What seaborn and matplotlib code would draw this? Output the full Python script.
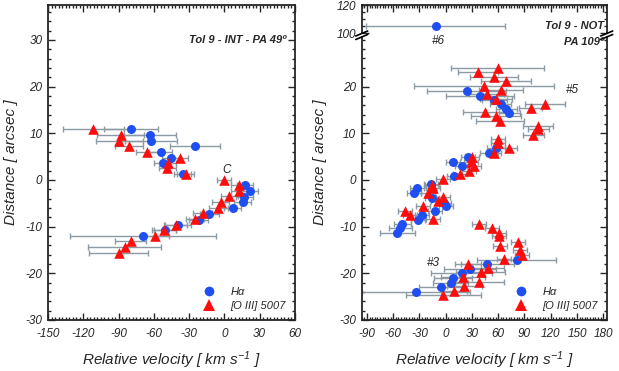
import numpy as np
import pandas as pd
import matplotlib
matplotlib.use("Agg")
import matplotlib.pyplot as plt
import seaborn as sns
from matplotlib.ticker import MultipleLocator, FixedLocator
from matplotlib.lines import Line2D

# ---------------- data ----------------
# Left panel: Tol 9 - INT - PA 49
left_ha_v = [-79.7, -63.3, -62.7, -25.0, -54.2, -45.1, -52.5, -35.5, 17.5, 21.8, 16.9, 15.5, 7.0,
             -12.8, -21.9, -39.7, -50.5, -69.0]
left_ha_d = [10.85, 9.57, 8.36, 7.23, 6.03, 4.82, 3.55, 1.2, -1.06, -2.34, -3.55, -4.8, -6.0,
             -7.2, -8.5, -9.6, -10.8, -12.06]
left_ha_err = [23, 22, 22, 21, 10, 8, 7, 7, 7, 7, 7, 7, 7, 8, 8, 11, 9, 62]

left_o3_v = [-111.5, -88.2, -89.6, -81.1, -65.6, -37.8, -48.2, -48.5, -32.9, -0.3, 12.4, 12.7, 4.2,
             -3.2, -5.2, -18.5, -25.0, -41.4, -51.4, -59.0, -79.7, -84.8, -89.9]
left_o3_d = [10.85, 9.57, 8.36, 7.23, 6.03, 4.82, 3.55, 2.48, 1.2, 0.0, -1.06, -2.34, -3.4,
             -4.8, -6.0, -7.1, -8.4, -9.6, -10.8, -12.06, -13.1, -14.4, -15.6]
left_o3_err = [26, 20, 20, 12, 10, 7, 7, 7, 7, 6, 7, 7, 7, 7, 8, 8, 8, 10, 10, 12, 13, 31, 25]

# Right panel: Tol 9 - NOT - PA 109
right_ha_v = [-11.3, 24.1, 39.3, 55.6, 62.9, 69.0, 72.8, 57.5, 49.5, 25.9, 8.1, 18.7, 9.6,
              -16.7, -33.0, -36.0, -15.9, -1.5, 0.1, -12.1, -26.6, -31.2, -49.4, -52.0, -55.1,
              81.2, 47.6, 27.9, 18.4, 8.1, 5.8, -5.6, -34.1]
right_ha_d = [105.2, 19.1, 18.05, 17.1, 16.2, 15.2, 14.3, 6.8, 5.7, 4.85, 3.8, 3.0, 0.93,
              -0.9, -1.8, -2.85, -3.8, -4.85, -5.6, -6.6, -7.6, -8.6, -9.4, -10.3, -11.4,
              -17.1, -18.05, -19.1, -20.0, -20.9, -22.0, -23.0, -23.9]
right_ha_err = [79.5, 45, 39, 14, 12, 12, 12, 10, 10, 8, 8, 8, 8,
                8, 8, 8, 8, 8, 8, 8, 8, 8, 10, 13, 20,
                45, 30, 30, 35, 22, 20, 25, 62]

right_o3_v = [36.6, 59.5, 55.3, 69.0, 43.8, 63.6, 46.9, 57.5, 97.1, 113.8, 45.0, 57.5, 62.1,
              105.1, 105.8, 99.8, 59.5, 59.8, 55.6, 72.0, 29.8, 28.6, 32.4, 26.7, 16.1, -2.6,
              -15.2, -14.0, -20.4, -2.6, -9.0, -26.1, -46.3, -40.6, -14.0, 38.5, 52.6, 61.0,
              61.0, 62.1, 83.0, 84.9, 86.9, 66.7, 25.9, 48.1, 40.1, 19.5, 38.1, 21.3, 9.6, -2.6]
right_o3_d = [23.0, 23.9, 22.0, 21.2, 20.1, 19.3, 18.3, 17.3, 15.5, 16.3, 14.6, 13.6, 12.6,
              11.6, 10.9, 9.6, 8.7, 7.85, 5.85, 6.9, 4.85, 3.8, 3.0, 2.0, 1.3, 0.14,
              -1.0, -1.8, -2.85, -3.6, -4.6, -5.6, -6.6, -7.5, -8.4, -9.4, -10.3, -11.3,
              -12.1, -14.1, -13.2, -15.1, -16.1, -16.9, -18.0, -18.9, -19.8, -20.8, -21.8, -22.7,
              -23.7, -24.6]
right_o3_err = [23, 53, 27, 29, 80, 25, 20, 18, 13, 23, 25, 29, 27,
                17, 12, 12, 8, 8, 8, 10, 8, 8, 8, 8, 8, 8,
                8, 8, 8, 8, 8, 8, 8, 8, 8, 8, 8, 8,
                8, 8, 8, 8, 8, 8, 15, 18, 28, 25, 28, 20,
                15, 43]

x_ticks_left = [-150, -120, -90, -60, -30, 0, 30, 60]
x_ticks_right = [-90, -60, -30, 0, 30, 60, 90, 120, 150, 180]
y_ticks = [-30, -20, -10, 0, 10, 20, 30]
y_ticks_right = [-30, -20, -10, 0, 10, 20]
y_ticks_top = [100, 120]

# ---------------- style ----------------
sns.set_style("ticks")
plt.rcParams['font.family'] = ['Liberation Sans', 'DejaVu Sans']
plt.rcParams['font.style'] = 'italic'
plt.rcParams['axes.unicode_minus'] = False
plt.rcParams['mathtext.fontset'] = 'custom'
plt.rcParams['mathtext.rm'] = 'Liberation Sans:italic'
plt.rcParams['mathtext.it'] = 'Liberation Sans:italic'

BLUE = '#1f4ff0'
RED = '#ff0d0d'
GREY = '#8c9aa4'

W, H = 619, 371
fig = plt.figure(figsize=(W / 100, H / 100), dpi=100)


def fax(x0, y0, x1, y1):
    return fig.add_axes([x0 / W, (H - y1) / H, (x1 - x0) / W, (y1 - y0) / H])


axL = fax(48, 5, 295, 320)
axRt = fax(361.7, 5, 606.7, 33)
axRb = fax(361.7, 37, 606.7, 320)


def draw(ax, hv, hd, he, ov, od, oe):
    ax.errorbar(hv, hd, xerr=he, fmt='none', ecolor=GREY, elinewidth=1.0, capsize=2.2,
                capthick=1.0, zorder=1)
    ax.errorbar(ov, od, xerr=oe, fmt='none', ecolor=GREY, elinewidth=1.0, capsize=2.2,
                capthick=1.0, zorder=1)
    dfh = pd.DataFrame({'v': hv, 'd': hd})
    dfo = pd.DataFrame({'v': ov, 'd': od})
    sns.scatterplot(data=dfh, x='v', y='d', ax=ax, marker='o', color=BLUE, s=42,
                    linewidth=0, zorder=3)
    sns.scatterplot(data=dfo, x='v', y='d', ax=ax, marker='^', color=RED, s=58,
                    linewidth=0, zorder=4)


def style_ax(ax):
    for sp in ax.spines.values():
        sp.set_linewidth(1.3)
        sp.set_visible(True)
    ax.tick_params(which='both', direction='in', top=True, right=True, width=1.0,
                   labelsize=8.5, pad=4)
    ax.tick_params(axis='x', which='both', pad=6)
    ax.tick_params(which='major', length=5)
    ax.tick_params(which='minor', length=2.5)
    ax.set_xlabel('')
    ax.set_ylabel('')


# left panel
draw(axL, left_ha_v, left_ha_d, left_ha_err, left_o3_v, left_o3_d, left_o3_err)
axL.set_xlim(-150, 60)
axL.set_ylim(-30, 37.5)
style_ax(axL)
axL.set_xticks(x_ticks_left)
axL.set_yticks(y_ticks)
axL.xaxis.set_minor_locator(MultipleLocator(3))
axL.yaxis.set_minor_locator(MultipleLocator(2))
axL.text(0.965, 0.89, 'Tol 9 - INT - PA 49º', transform=axL.transAxes, ha='right', va='center',
         fontsize=8, fontweight='bold')
axL.text(2, 2.1, 'C', ha='center', va='center', fontsize=8.5)

# right panels
draw(axRb, right_ha_v[1:], right_ha_d[1:], right_ha_err[1:], right_o3_v, right_o3_d, right_o3_err)
axRb.set_xlim(-96, 184)
axRb.set_ylim(-30, 30.6)
style_ax(axRb)
axRb.spines['top'].set_visible(False)
axRb.tick_params(which='both', top=False)
axRb.set_xticks(x_ticks_right)
axRb.set_yticks(y_ticks_right)
axRb.xaxis.set_minor_locator(MultipleLocator(3))
axRb.yaxis.set_minor_locator(FixedLocator(np.arange(-30, 30.1, 2)))

axRt.errorbar(right_ha_v[:1], right_ha_d[:1], xerr=right_ha_err[:1], fmt='none', ecolor=GREY,
              elinewidth=1.0, capsize=2.2, capthick=1.0, zorder=1)
sns.scatterplot(x=right_ha_v[:1], y=right_ha_d[:1], ax=axRt, marker='o', color=BLUE, s=42,
                linewidth=0, zorder=3)
axRt.set_xlim(-96, 184)
axRt.set_ylim(100, 120)
style_ax(axRt)
axRt.spines['bottom'].set_visible(False)
axRt.tick_params(which='both', bottom=False, labelbottom=False)
axRt.set_xticks(x_ticks_right)
axRt.xaxis.set_minor_locator(MultipleLocator(3))
axRt.set_yticks(y_ticks_top)
axRt.yaxis.set_minor_locator(MultipleLocator(5))

# break marks
for xb in (361.7, 606.7):
    for yb in (33.5, 37.0):
        fig.add_artist(Line2D([(xb - 6) / W, (xb + 6) / W], [(H - yb - 2.5) / H, (H - yb + 2.5) / H],
                              transform=fig.transFigure, color='black', lw=1.2))

fig.text(438.3 / W, (H - 41) / H, '#6', ha='center', va='center', fontsize=8.5)
axRb.text(145, 19.3, '#5', ha='center', va='center', fontsize=8.5)
axRb.text(-14, -17.7, '#3', ha='center', va='center', fontsize=8.5)
fig.text(604 / W, (H - 26) / H, 'Tol 9 - NOT', ha='right', va='center', fontsize=8,
         fontweight='bold')
fig.text(604 / W, (H - 42) / H, 'PA 109º', ha='right', va='center', fontsize=8,
         fontweight='bold')

# legends
handles = [Line2D([], [], marker='o', color=BLUE, ls='none', markersize=7, markeredgewidth=0),
           Line2D([], [], marker='^', color=RED, ls='none', markersize=8, markeredgewidth=0)]
labels = ['Hα', '[O III] 5007']
for ax in (axL, axRb):
    leg = ax.legend(handles, labels, loc='lower right', frameon=False, fontsize=8,
                    handletextpad=0.9, labelspacing=0.35, borderaxespad=0.4,
                    alignment='left')

# axis labels
for xc in ((48 + 295) / 2, (361.7 + 606.7) / 2):
    fig.text(xc / W, (H - 360) / H, r'Relative velocity [ km s$^{-1}$ ]',
             ha='center', va='center', fontsize=11)
fig.text(11 / W, (H - 162) / H, 'Distance [ arcsec ]', rotation=90, ha='center', va='center',
         fontsize=11)
fig.text(320 / W, (H - 162) / H, 'Distance [ arcsec ]', rotation=90, ha='center', va='center',
         fontsize=11)

fig.savefig('out.png', dpi=100)
